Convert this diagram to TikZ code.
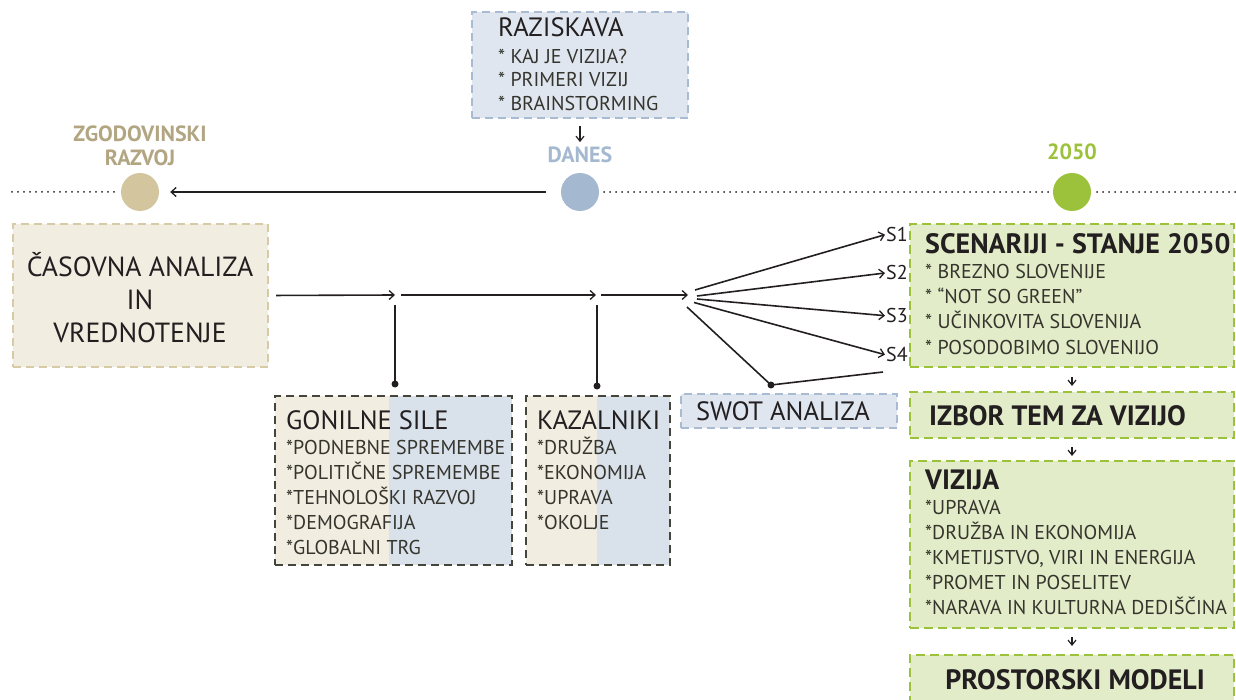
\documentclass[tikz,border=0pt]{standalone}
\usepackage{fontspec}
\setmainfont{PT Sans}
\usetikzlibrary{arrows.meta}
\definecolor{ink}{HTML}{231F20}
\definecolor{itxt}{HTML}{35352E}
\definecolor{beigef}{HTML}{F1EDE1}
\definecolor{beiged}{HTML}{D6CBA6}
\definecolor{brownc}{HTML}{D3C69E}
\definecolor{brownt}{HTML}{B2A581}
\definecolor{bluef}{HTML}{DFE6EF}
\definecolor{bluef2}{HTML}{D9E1EB}
\definecolor{blued}{HTML}{A9BBD2}
\definecolor{bluec}{HTML}{A4B8D0}
\definecolor{greenc}{HTML}{9CC23B}
\definecolor{greenf}{HTML}{E2ECC8}
\definecolor{darkd}{HTML}{45453B}
\definecolor{linec}{HTML}{231F20}
\tikzset{
  boxbase/.style={rectangle, inner sep=0pt, outer sep=0pt, anchor=north west},
  bluebox/.style={boxbase, fill=bluef, draw=blued, line width=1.8pt, dash pattern=on 8pt off 5pt},
  beigebox/.style={boxbase, fill=beigef, draw=beiged, line width=2.2pt, dash pattern=on 8pt off 5pt},
  greenbox/.style={boxbase, fill=greenf, draw=greenc, line width=2.6pt, dash pattern=on 9pt off 5pt},
  darkbox/.style={boxbase, draw=darkd, line width=2pt, dash pattern=on 8pt off 5pt},
  halffill/.style={boxbase, minimum height=169pt},
  ttl/.style={anchor=base west, inner sep=0pt, text=ink, font=\fontsize{26.5}{26.5}\selectfont},
  itm/.style={anchor=base west, inner sep=0pt, text=itxt, font=\fontsize{20}{20}\selectfont},
  bttl/.style={anchor=base west, inner sep=0pt, text=ink, font=\fontsize{28}{28}\selectfont\bfseries},
  tlabel/.style={anchor=base, inner sep=0pt, font=\fontsize{22}{22}\selectfont\bfseries},
  slabel/.style={anchor=base west, inner sep=1pt, text=ink, font=\fontsize{20}{20}\selectfont},
  jdot/.style={circle, fill=linec, inner sep=0pt, minimum size=7pt},
  tcircle/.style={circle, inner sep=0pt, minimum size=38pt},
  flow/.style={draw=linec, line width=1.6pt, -{Straight Barb[length=5pt,width=9pt,line width=1.3pt]}},
  pline/.style={draw=linec, line width=1.6pt},
  sarrow/.style={draw=linec, line width=1.4pt, -{Straight Barb[length=5pt,width=8pt,line width=1.2pt]}},
  dotline/.style={draw=linec, line width=2pt, line cap=round, dash pattern=on 0pt off 6pt},
}
\begin{document}
\begin{tikzpicture}[x=1pt,y=-1pt]
\useasboundingbox (0,0) rectangle (1236,700);

% timeline
\node[tcircle, fill=brownc] (past) at (140,192) {};
\node[tcircle, fill=bluec] (now) at (580,192) {};
\node[tcircle, fill=greenc] (future) at (1072,192) {};
\coordinate (tlL) at (12,192);
\coordinate (tlR) at (1236,192);
\draw[dotline, shorten >=3pt] (tlL) -- (past.west);
\draw[flow, shorten <=15pt, shorten >=11pt] (now.west) -- (past.east);
\draw[dotline, shorten <=5pt, shorten >=4pt] (now.east) -- (future.west);
\draw[dotline, shorten <=6pt] (future.east) -- (tlR);

\node[tlabel, text=brownt] (zg1) at (140,141.7) {ZGODOVINSKI};
\node[tlabel, text=brownt] (zg2) at (140,166) {RAZVOJ};
\node[tlabel, text=bluec] (danes) at (580,163) {DANES};
\node[tlabel, text=greenc] (y2050) at (1072,160) {2050};

% raziskava
\node[bluebox, minimum width=216pt, minimum height=106pt] (rz) at (472,12) {};
\node[ttl] (rzt) at (498,36.7) {RAZISKAVA};
\foreach \t [count=\i] in {{* KAJ JE VIZIJA?},{* PRIMERI VIZIJ},{* BRAINSTORMING}}
  \node[itm] (rz\i) at (498,40+23.5*\i) {\t};
\draw[sarrow, shorten <=8pt, shorten >=5pt] (rz.south) -- (danes.north);

% casovna analiza
\node[beigebox, minimum width=255pt, minimum height=143pt] (cas) at (13,224) {};
\node[anchor=base, inner sep=0pt, text=ink, font=\fontsize{27.7}{27.7}\selectfont] (cas1) at (140,276.7) {ČASOVNA ANALIZA};
\node[anchor=base, inner sep=0pt, text=ink, font=\fontsize{27.7}{27.7}\selectfont] (cas2) at (140,309) {IN};
\node[anchor=base, inner sep=0pt, text=ink, font=\fontsize{27.7}{27.7}\selectfont] (cas3) at (140,342) {VREDNOTENJE};

% main flow
\coordinate (j1) at (395,295);
\coordinate (b0) at (401,295);
\coordinate (j2) at (596,295);
\coordinate (c0) at (601,295);
\coordinate (j3) at (688,295);
\draw[flow, shorten <=8pt] (cas.east) -- (j1);
\draw[flow] (b0) -- (j2);
\draw[flow] (c0) -- (j3);

\coordinate (v1) at (395,305);
\node[jdot] (d1) at (395,384) {};
\draw[pline] (v1) -- (d1.center);
\coordinate (v2) at (597,305);
\node[jdot] (d2) at (597,386) {};
\draw[pline] (v2) -- (d2.center);

% gonilne sile
\node[halffill, fill=beigef, minimum width=114pt] (gonA) at (275,396) {};
\node[halffill, fill=bluef2, minimum width=123pt] (gonB) at (389,396) {};
\node[darkbox, minimum width=237pt, minimum height=169pt] (gon) at (275,396) {};
\node[ttl] (gont) at (286,429) {GONILNE SILE};
\foreach \t [count=\i] in {{*PODNEBNE SPREMEMBE},{*POLITIČNE SPREMEMBE},{*TEHNOLOŠKI RAZVOJ},{*DEMOGRAFIJA},{*GLOBALNI TRG}}
  \node[itm] (gon\i) at (286,429+25*\i) {\t};

% kazalniki
\node[halffill, fill=beigef, minimum width=71pt] (kazA) at (526,396) {};
\node[halffill, fill=bluef2, minimum width=73pt] (kazB) at (597,396) {};
\node[darkbox, minimum width=144pt, minimum height=169pt] (kaz) at (526,396) {};
\node[ttl] (kazt) at (537,429) {KAZALNIKI};
\foreach \t [count=\i] in {{*DRUŽBA},{*EKONOMIJA},{*UPRAVA},{*OKOLJE}}
  \node[itm] (kaz\i) at (537,429+25*\i) {\t};

% swot
\node[bluebox, minimum width=216pt, minimum height=34pt] (swot) at (681,394) {};
\node[ttl, anchor=base] (swott) at (783,420.7) {SWOT ANALIZA};

% fan to scenarios
\coordinate (f1) at (695,290);
\coordinate (f2) at (697,296);
\coordinate (f3) at (697,299);
\coordinate (f4) at (694,302.5);
\coordinate (fs) at (687,307);
\node[slabel] (S1) at (885,241.7) {S1};
\node[slabel] (S2) at (885,280) {S2};
\node[slabel] (S3) at (885,322.7) {S3};
\node[slabel] (S4) at (885,361.7) {S4};
\draw[flow] (f1) -- (S1.west);
\draw[flow] (f2) -- (S2.west);
\draw[flow] (f3) -- (S3.west);
\draw[flow] (f4) -- (S4.west);
\node[jdot] (d3) at (771,385) {};
\coordinate (sw4) at (883,372);
\draw[pline] (fs) -- (d3.center) -- (sw4);

% right column
\node[greenbox, minimum width=324pt, minimum height=143pt] (scen) at (910,224) {};
\node[bttl] (scent) at (925,254) {SCENARIJI - STANJE 2050};
\foreach \t [count=\i] in {{* BREZNO SLOVENIJE},{* “NOT SO GREEN”},{* UČINKOVITA SLOVENIJA},{* POSODOBIMO SLOVENIJO}}
  \node[itm] (scen\i) at (925,254+25*\i) {\t};

\node[greenbox, minimum width=324pt, minimum height=46pt] (izbor) at (910,392) {};
\node[bttl] (izbort) at (929,425) {IZBOR TEM ZA VIZIJO};

\node[greenbox, minimum width=324pt, minimum height=167pt] (viz) at (910,461) {};
\node[bttl] (vizt) at (925,489.3) {VIZIJA};
\foreach \t [count=\i] in {{*UPRAVA},{*DRUŽBA IN EKONOMIJA},{*KMETIJSTVO, VIRI IN ENERGIJA},{*PROMET IN POSELITEV},{*NARAVA IN KULTURNA DEDIŠČINA}}
  \node[itm] (viz\i) at (925,489+25*\i) {\t};

\node[boxbase, fill=greenf, minimum width=324pt, minimum height=50pt] (prost) at (910,655) {};
\draw[draw=greenc, line width=2.6pt, dash pattern=on 9pt off 5pt] (prost.south west) -- (prost.north west) -- (prost.north east) -- (prost.south east);
\node[bttl, anchor=base] (prostt) at (1075,689) {PROSTORSKI MODELI};

\draw[sarrow, shorten <=10pt, shorten >=6pt] (scen.south) -- (izbor.north);
\draw[sarrow, shorten <=9pt, shorten >=5pt] (izbor.south) -- (viz.north);
\draw[sarrow, shorten <=9pt, shorten >=9pt] (viz.south) -- (prost.north);
\end{tikzpicture}
\end{document}
